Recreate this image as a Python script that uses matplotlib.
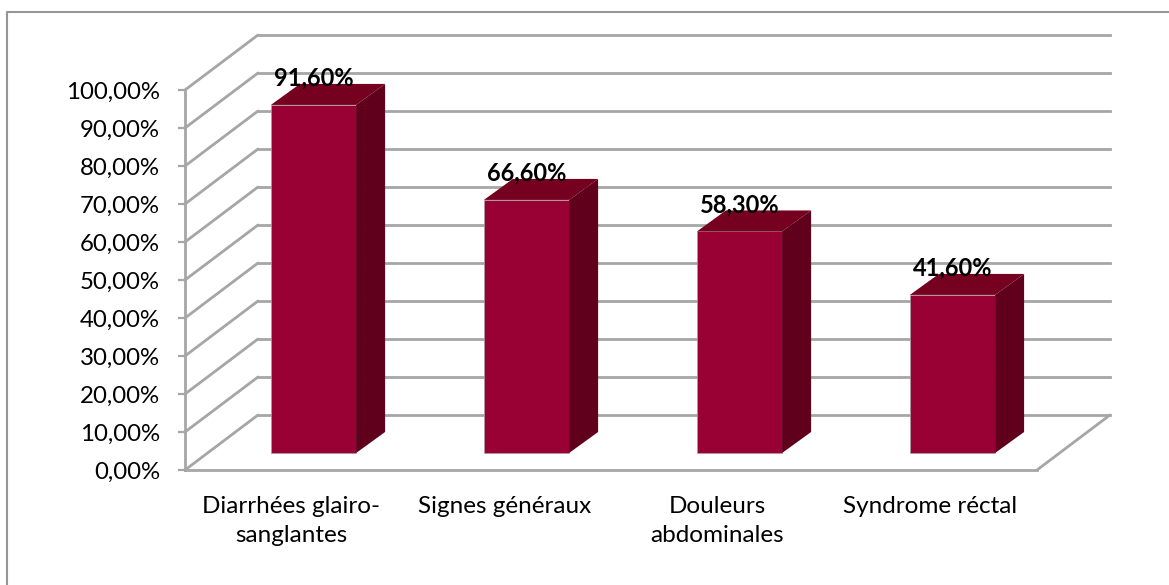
import matplotlib
matplotlib.use("Agg")
import matplotlib.pyplot as plt
from matplotlib.lines import Line2D
from matplotlib.patches import Polygon, Rectangle
from matplotlib.transforms import ScaledTranslation

categories = ["Diarrhées glairo-\nsanglantes", "Signes généraux", "Douleurs\nabdominales", "Syndrome réctal"]
values = [91.6, 66.6, 58.3, 41.6]
value_labels = ["91,60%", "66,60%", "58,30%", "41,60%"]
y_ticks = list(range(0, 101, 10))
y_tick_labels = [f"{t},00%" for t in y_ticks]

W, H = 1169, 585
DPI = 100
plt.rcParams["font.family"] = ["Lato", "DejaVu Sans"]
GRID = "#a6a6a6"
FRONT, TOP, SIDE = "#990033", "#75001f", "#60001c"

fig = plt.figure(figsize=(W / DPI, H / DPI), dpi=DPI)
# The chart frame shows only its top and left edges, running off the picture
fig.add_artist(Line2D([7 / W, 7 / W, 1], [0, 1 - 12 / H, 1 - 12 / H], transform=fig.transFigure,
                      color="#969696", lw=1.5))

L, R, B, T = 185, 1037, 470, 90
ax = fig.add_axes([L / W, 1 - B / H, (R - L) / W, (B - T) / H])
ax.set_xlim(0, 4)
ax.set_ylim(0, 100)
ax.patch.set_alpha(0)
for s in ["top", "right"]:
    ax.spines[s].set_visible(False)
for s in ["left", "bottom"]:
    ax.spines[s].set_color(GRID)
    ax.spines[s].set_linewidth(2.0)


def shift(dx, dy):
    return ax.transData + ScaledTranslation(dx / DPI, -dy / DPI, fig.dpi_scale_trans)


# Depth (pixels): back wall, and the bars' front/back faces
WALL = (73, -55)
BF = (22, -17)
BB = (BF[0] + 29, BF[1] - 21)

for t in y_ticks:
    ax.plot([0, 4], [t, t], color=GRID, lw=2.0, transform=shift(*WALL), clip_on=False, zorder=1)
    ax.annotate("", xy=(0, t), xytext=(WALL[0], -WALL[1]), xycoords="data", textcoords="offset pixels",
                arrowprops=dict(arrowstyle="-", color=GRID, lw=2.0, shrinkA=0, shrinkB=0),
                annotation_clip=False, zorder=1)
ax.annotate("", xy=(4, 0), xytext=(WALL[0], -WALL[1]), xycoords="data", textcoords="offset pixels",
            arrowprops=dict(arrowstyle="-", color=GRID, lw=2.0, shrinkA=0, shrinkB=0),
            annotation_clip=False, zorder=1)

w = 0.4
for i, v in enumerate(values):
    x0, x1 = i + 0.5 - w / 2, i + 0.5 + w / 2
    ax.add_patch(Rectangle((x0, 0), w, v, fc=FRONT, ec="#a8a0a4", lw=0.5, transform=shift(*BF),
                           clip_on=False, zorder=3))
    front = shift(*BF)
    back = shift(*BB)
    inv = ax.transData.inverted()
    p = lambda xy, tr: inv.transform(tr.transform(xy))
    ax.add_patch(Polygon([p((x0, v), front), p((x1, v), front), p((x1, v), back), p((x0, v), back)],
                         closed=True, fc=TOP, ec="none", clip_on=False, zorder=3))
    ax.add_patch(Polygon([p((x1, 0), front), p((x1, 0), back), p((x1, v), back), p((x1, v), front)],
                         closed=True, fc=SIDE, ec="none", clip_on=False, zorder=3))
    ax.text(i + 0.5, v, value_labels[i], transform=shift(BF[0] + 0, BF[1] - 15), ha="center", va="bottom",
            fontsize=17, fontweight="bold", color="black", clip_on=False, zorder=5)

ax.set_yticks(y_ticks)
ax.set_yticklabels(y_tick_labels, fontsize=17.3, color="black")
ax.tick_params(axis="y", length=5, width=1.6, color=GRID, pad=13)
ax.set_xticks([0.5, 1.5, 2.5, 3.5])
ax.set_xticklabels(categories, fontsize=17.5, color="black", linespacing=1.5)
ax.tick_params(axis="x", length=0, pad=18.5)

fig.savefig("out.png", dpi=DPI)
